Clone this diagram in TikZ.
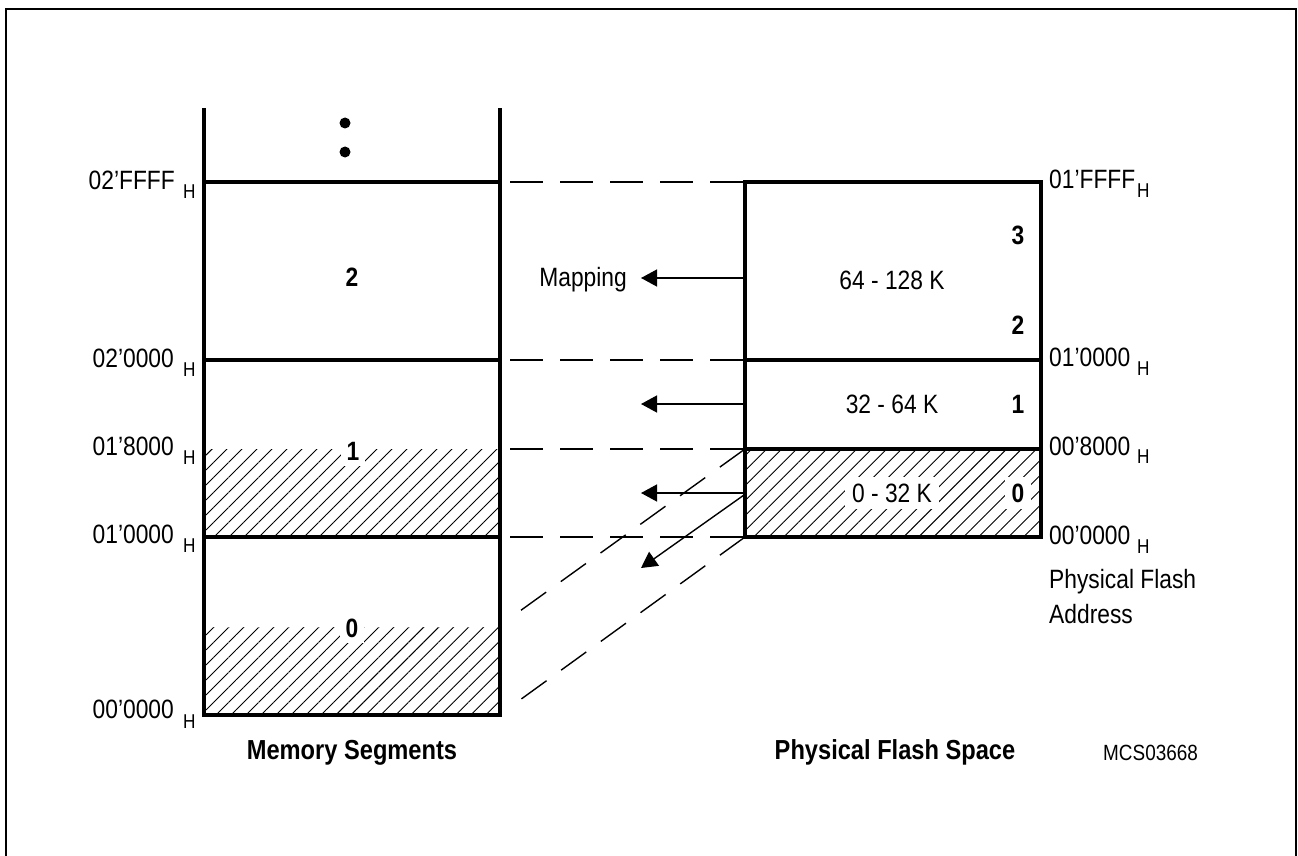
\documentclass[tikz,border=0pt]{standalone}
\usepackage{fontspec}
\setmainfont{Liberation Sans}[FakeStretch=0.86]
\usetikzlibrary{patterns.meta,arrows.meta}
\begin{document}
\begin{tikzpicture}[x=1pt,y=-1pt,
  bigline/.style={line width=4pt},
  dashline/.style={line width=1.4pt,dash pattern=on 33pt off 17pt},
  hatch/.style={pattern={Lines[angle=45,distance=10.6pt,line width=0.9pt]}},
  arr/.style={line width=1.4pt,-{Triangle[length=16pt,width=17pt]}},
  lbl/.style={font=\fontsize{26.5}{30}\selectfont,inner sep=0pt},
  sub/.style={font=\fontsize{20}{24}\selectfont,inner sep=0pt},
  num/.style={font=\fontsize{26.5}{30}\selectfont\bfseries,inner sep=0pt},
  wbox/.style={fill=white,inner sep=7pt}]
\useasboundingbox (0,0) rectangle (1298,856);
% frame
\draw[line width=1.5pt] (6,9) rectangle (1296,880);

% ---- memory segments column
\coordinate (mTL) at (204,108); \coordinate (mTR) at (500,108);
\coordinate (m2l) at (204,182); \coordinate (m2r) at (500,182);
\coordinate (m1l) at (204,360); \coordinate (m1r) at (500,360);
\coordinate (mh1l) at (204,449); \coordinate (mh1r) at (500,449);
\coordinate (m0l) at (204,537); \coordinate (m0r) at (500,537);
\coordinate (mh0l) at (204,627); \coordinate (mh0r) at (500,627);
\coordinate (mbl) at (204,715); \coordinate (mbr) at (500,715);
\fill[hatch] (mh1l) rectangle (m0r);
\fill[hatch] (mh0l) rectangle (mbr);

% ---- flash column
\coordinate (f3l) at (745,182); \coordinate (f3r) at (1041,182);
\coordinate (f1l) at (745,360); \coordinate (f1r) at (1041,360);
\coordinate (f0l) at (745,449); \coordinate (f0r) at (1041,449);
\coordinate (fbl) at (745,537); \coordinate (fbr) at (1041,537);
\fill[hatch] (f0l) rectangle (fbr);

% labels inside
\node[num] (s2) at (352,277) {2};
\node[num,wbox,inner sep=6pt] (s1) at (353,451) {1};
\node[num,wbox,inner sep=6pt] (s0) at (352,628) {0};
\node[lbl] (r2) at (892,280) {64 - 128 K};
\node[num] (n3) at (1018,235) {3};
\node[num] (n2) at (1018,325) {2};
\node[lbl] (r1) at (892,404) {32 - 64 K};
\node[num] (n1) at (1018,404) {1};
\node[lbl,wbox] (r0) at (892,493) {0 - 32 K};
\node[num,wbox,inner sep=7pt] (n0) at (1018,493) {0};

% column outlines
\draw[bigline] (mTL) -- (mbl) -- (mbr) -- (mTR);
\draw[bigline] (m2l) -- (m2r);
\draw[bigline] (m1l) -- (m1r);
\draw[bigline] (m0l) -- (m0r);
\draw[bigline] (f3l) rectangle (fbr);
\draw[bigline] (f1l) -- (f1r);
\draw[bigline] (f0l) -- (f0r);

% dots
\fill (345,123) circle (5.5);
\fill (345,152) circle (5.5);

% dashed mapping lines
\coordinate (h3) at (510,182);
\coordinate (h2) at (510,360);
\coordinate (h1) at (510,449);
\coordinate (h0) at (510,537);
\draw[dashline] (h3) -- (f3l);
\draw[dashline] (h2) -- (f1l);
\draw[dashline] (h1) -- (f0l);
\draw[dashline] (h0) -- (fbl);
\coordinate (g1) at (513,616);
\coordinate (g2) at (513,705);
\draw[dashline,dash pattern=on 31pt off 18pt] (f0l) -- (g1);
\draw[dashline,dash pattern=on 31pt off 18pt] (fbl) -- (g2);

% arrows
\coordinate (a1s) at (744,278); \coordinate (a1e) at (641,278);
\coordinate (a2s) at (744,404); \coordinate (a2e) at (641,404);
\coordinate (a3s) at (744,493); \coordinate (a3e) at (641,493);
\coordinate (a4s) at (744,495); \coordinate (a4e) at (641,568);
\draw[arr] (a1s) -- (a1e);
\draw[arr] (a2s) -- (a2e);
\draw[arr] (a3s) -- (a3e);
\draw[arr] (a4s) -- (a4e);
\node[lbl,anchor=base east] (map) at (627,286) {Mapping};

% left addresses
\node[lbl,anchor=base east] (la3) at (175,189) {02’FFFF};
\node[sub,anchor=base west] (la3h) at (183,198) {H};
\node[lbl,anchor=base east] (la2) at (174,367) {02’0000};
\node[sub,anchor=base west] (la2h) at (183,376) {H};
\node[lbl,anchor=base east] (la1) at (174,455) {01’8000};
\node[sub,anchor=base west] (la1h) at (183,464) {H};
\node[lbl,anchor=base east] (la0) at (174,543) {01’0000};
\node[sub,anchor=base west] (la0h) at (183,552) {H};
\node[lbl,anchor=base east] (lab) at (174,718) {00’0000};
\node[sub,anchor=base west] (labh) at (183,728) {H};

% right addresses
\node[lbl,anchor=base west] (ra3) at (1049,188) {01’FFFF};
\node[sub,anchor=base west] (ra3h) at (1137,197) {H};
\node[lbl,anchor=base west] (ra2) at (1049,366) {01’0000};
\node[sub,anchor=base west] (ra2h) at (1137,375) {H};
\node[lbl,anchor=base west] (ra1) at (1049,455) {00’8000};
\node[sub,anchor=base west] (ra1h) at (1137,463) {H};
\node[lbl,anchor=base west] (ra0) at (1049,544) {00’0000};
\node[sub,anchor=base west] (ra0h) at (1137,553) {H};
\node[lbl,anchor=base west] (pfa1) at (1049,588) {Physical Flash};
\node[lbl,anchor=base west] (pfa2) at (1049,623) {Address};

% captions
\node[lbl,font=\fontsize{27.5}{30}\selectfont\bfseries,anchor=base] (cap1) at (352,759) {Memory Segments};
\node[lbl,font=\fontsize{27.5}{30}\selectfont\bfseries,anchor=base] (cap2) at (895,759) {Physical Flash Space};
\node[lbl,font=\fontsize{22}{26}\selectfont,anchor=base west] (code) at (1103,760) {MCS03668};
\end{tikzpicture}
\end{document}
